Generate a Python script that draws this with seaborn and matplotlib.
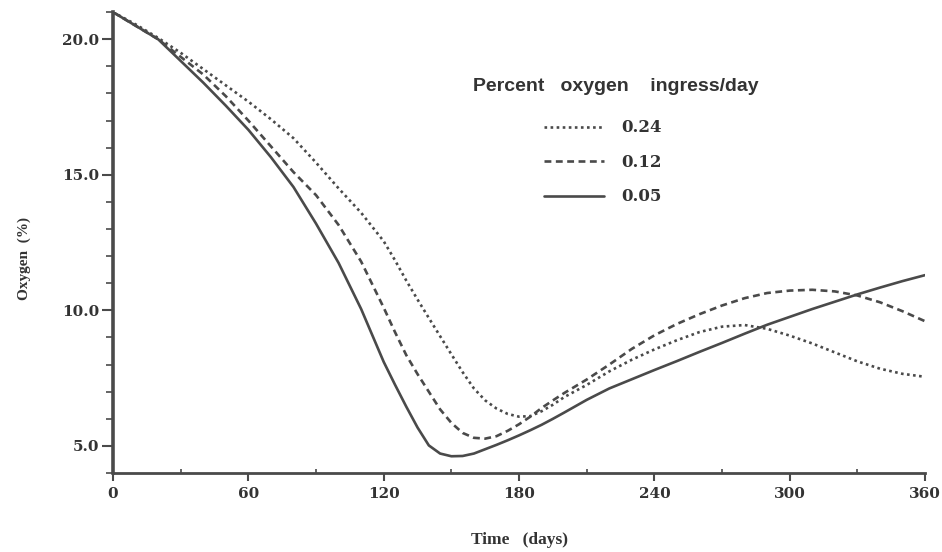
import numpy as np
import pandas as pd
import matplotlib
matplotlib.use('Agg')
import matplotlib.pyplot as plt
import seaborn as sns
from matplotlib.ticker import MultipleLocator, FormatStrFormatter

sns.set_style("ticks")
plt.rcParams['font.family'] = ['DejaVu Serif', 'Liberation Serif']

# 数据 - 从原图读取
days = [0, 10, 20, 30, 40, 50, 60, 70, 80, 90, 100, 110, 120,
        125, 130, 135, 140, 145, 150, 155, 160, 165, 170, 175, 180, 185, 190, 195, 200,
        210, 220, 230, 240, 250, 260, 270, 280, 290, 300, 310, 320, 330, 340, 350, 360]

oxy_024 = [21.0, 20.55, 20.05, 19.5, 18.9, 18.3, 17.7, 17.05, 16.35, 15.45, 14.5, 13.6, 12.55,
           11.85, 11.1, 10.4, 9.72, 9.05, 8.38, 7.72, 7.12, 6.68, 6.38, 6.18, 6.08, 6.1, 6.28, 6.52, 6.8,
           7.25, 7.75, 8.18, 8.56, 8.9, 9.2, 9.4, 9.46, 9.32, 9.07, 8.78, 8.45, 8.12, 7.85, 7.66, 7.55]

oxy_012 = [21.0, 20.5, 20.0, 19.35, 18.7, 17.9, 17.0, 16.05, 15.1, 14.25, 13.15, 11.8, 10.1,
           9.2, 8.35, 7.65, 7.0, 6.35, 5.85, 5.48, 5.3, 5.27, 5.36, 5.56, 5.8, 6.08, 6.4, 6.68, 6.95,
           7.45, 8.0, 8.58, 9.08, 9.5, 9.86, 10.18, 10.45, 10.64, 10.73, 10.76, 10.7, 10.55, 10.3, 9.97, 9.6]

oxy_005 = [21.0, 20.5, 20.0, 19.2, 18.4, 17.55, 16.66, 15.65, 14.55, 13.2, 11.75, 10.05, 8.1,
           7.26, 6.45, 5.68, 5.02, 4.72, 4.62, 4.63, 4.72, 4.88, 5.04, 5.21, 5.39, 5.58, 5.78, 6.0, 6.23,
           6.7, 7.12, 7.46, 7.8, 8.13, 8.47, 8.8, 9.14, 9.47, 9.76, 10.05, 10.32, 10.59, 10.84, 11.08, 11.3]

rates = ['0.24', '0.12', '0.05']

df = pd.DataFrame({
    'day': days * 3,
    'oxygen': oxy_024 + oxy_012 + oxy_005,
    'rate': np.repeat(rates, len(days)),
})

ink = '#4a4a4a'
txt = '#333333'

fig, ax = plt.subplots(figsize=(9.42, 5.52), dpi=100)
fig.subplots_adjust(left=0.12, right=0.982, top=0.978, bottom=0.143)

sns.lineplot(data=df, x='day', y='oxygen', style='rate', style_order=rates,
             dashes={'0.24': (1, 1.3), '0.12': (2.6, 1.7), '0.05': ''},
             color=ink, linewidth=1.9, ax=ax)

ax.set_xlim(0, 360)
ax.set_ylim(4, 21)
ax.set_xticks(range(0, 361, 60))
ax.xaxis.set_minor_locator(MultipleLocator(30))
ax.set_yticks([5, 10, 15, 20])
ax.yaxis.set_minor_locator(MultipleLocator(1))
ax.yaxis.set_major_formatter(FormatStrFormatter('%.1f'))

sns.despine(ax=ax)
ax.spines['left'].set_linewidth(2.6)
ax.spines['bottom'].set_linewidth(2.0)
ax.spines['left'].set_color(ink)
ax.spines['bottom'].set_color(ink)

ax.tick_params(axis='x', which='major', direction='out', length=6, width=1.5,
               color=ink, pad=4, labelsize=11, labelcolor=txt)
ax.tick_params(axis='x', which='minor', direction='in', length=3, width=1.2, color=ink)
ax.tick_params(axis='y', which='major', direction='out', length=8, width=1.5,
               color=ink, pad=2, labelsize=11, labelcolor=txt)
ax.tick_params(axis='y', which='minor', direction='out', length=5, width=1.2, color=ink)
for lab in ax.get_xticklabels() + ax.get_yticklabels():
    lab.set_fontweight('bold')

ax.set_xlabel('Time   (days)', fontsize=12.5, fontweight='bold', color=txt,
              family='Liberation Serif')
ax.set_ylabel('Oxygen  (%)', fontsize=11, fontweight='bold', color=txt,
              family='Liberation Serif')
ax.xaxis.set_label_coords(0.5, -0.128)
ax.yaxis.set_label_coords(-0.101, 0.466)

# 图例：标题单独写，条目居中放在标题下方略偏左
ax.text(0.619, 0.839, 'Percent   oxygen    ingress/day', transform=ax.transAxes,
        ha='center', va='center', family='Liberation Sans', fontweight='bold',
        fontsize=14, color=txt)

handles, labels = ax.get_legend_handles_labels()
leg = ax.legend(handles, labels, loc='center', bbox_to_anchor=(0.603, 0.674),
                frameon=False,
                prop={'family': 'DejaVu Serif', 'weight': 'bold', 'size': 12},
                handlelength=3.6, handletextpad=1.0, labelspacing=1.05)
for t in leg.get_texts():
    t.set_color(txt)
for h in leg.get_lines():
    h.set_linewidth(1.9)
    h.set_color(ink)

plt.savefig('out.png', dpi=100)
